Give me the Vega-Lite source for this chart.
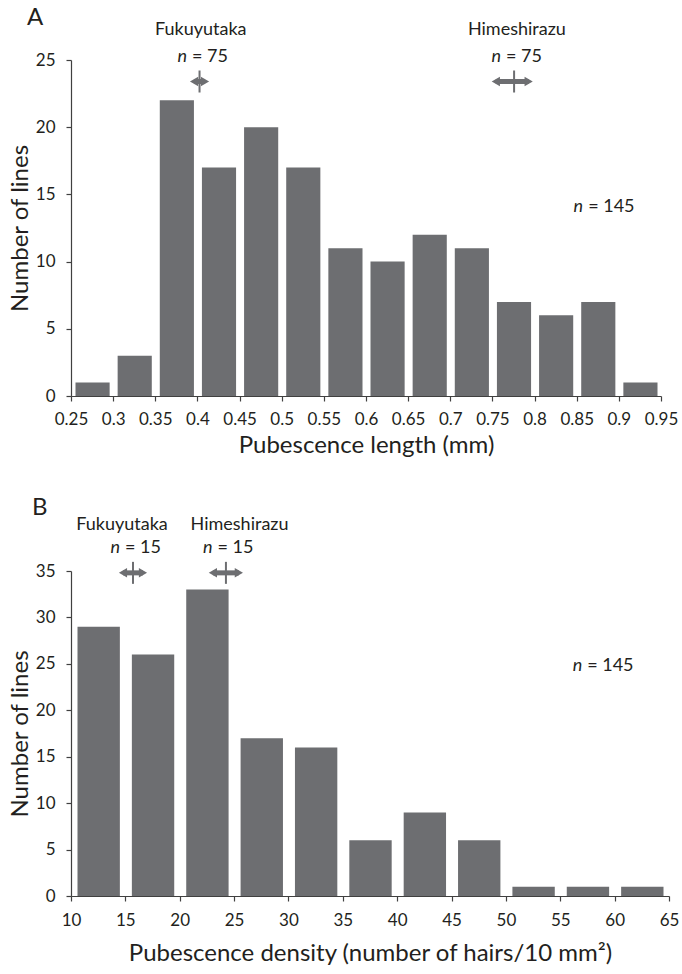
{
  "$schema": "https://vega.github.io/schema/vega-lite/v6.json",
  "background": "white",
  "padding": {"left": 8, "top": 6, "right": 5, "bottom": 2},
  "config": {
    "font": "Lato",
    "view": {"stroke": null},
    "axis": {
      "domainColor": "#404040", "tickColor": "#404040", "labelColor": "#231f20", "titleColor": "#231f20",
      "labelFontSize": 17, "titleFontSize": 24, "titleFontWeight": "normal", "grid": false, "tickSize": 5,
      "labelFont": "Lato", "titleFont": "Lato", "domainWidth": 1.2, "tickWidth": 1.2, "labelOverlap": false, "labelFlush": false
    },
    "title": {"fontSize": 24, "fontWeight": "normal", "anchor": "start", "frame": "group", "color": "#231f20", "font": "Lato"},
    "text": {"font": "Lato", "fontSize": 18, "color": "#231f20"},
    "concat": {"spacing": 38}
  },
  "datasets": {
    "barsA": [
      {"lo": 0.25, "hi": 0.30, "count": 1},
      {"lo": 0.30, "hi": 0.35, "count": 3},
      {"lo": 0.35, "hi": 0.40, "count": 22},
      {"lo": 0.40, "hi": 0.45, "count": 17},
      {"lo": 0.45, "hi": 0.50, "count": 20},
      {"lo": 0.50, "hi": 0.55, "count": 17},
      {"lo": 0.55, "hi": 0.60, "count": 11},
      {"lo": 0.60, "hi": 0.65, "count": 10},
      {"lo": 0.65, "hi": 0.70, "count": 12},
      {"lo": 0.70, "hi": 0.75, "count": 11},
      {"lo": 0.75, "hi": 0.80, "count": 7},
      {"lo": 0.80, "hi": 0.85, "count": 6},
      {"lo": 0.85, "hi": 0.90, "count": 7},
      {"lo": 0.90, "hi": 0.95, "count": 1}
    ],
    "arrowsA": [
      {"cultivar": "Fukuyutaka", "lo": 0.396, "mean": 0.4025, "hi": 0.409, "y": 23.4},
      {"cultivar": "Himeshirazu", "lo": 0.754, "mean": 0.7757, "hi": 0.793, "y": 23.4}
    ],
    "namesA": [
      {"x": 0.404, "y": 27.2, "name": "Fukuyutaka"},
      {"x": 0.779, "y": 27.2, "name": "Himeshirazu"}
    ],
    "nA": [
      {"x": 0.390, "y": 25.2, "rest": "= 75"},
      {"x": 0.7626, "y": 25.2, "rest": "= 75"},
      {"x": 0.860, "y": 14.06, "rest": "= 145"}
    ],
    "barsB": [
      {"lo": 10, "hi": 15, "count": 29},
      {"lo": 15, "hi": 20, "count": 26},
      {"lo": 20, "hi": 25, "count": 33},
      {"lo": 25, "hi": 30, "count": 17},
      {"lo": 30, "hi": 35, "count": 16},
      {"lo": 35, "hi": 40, "count": 6},
      {"lo": 40, "hi": 45, "count": 9},
      {"lo": 45, "hi": 50, "count": 6},
      {"lo": 50, "hi": 55, "count": 1},
      {"lo": 55, "hi": 60, "count": 1},
      {"lo": 60, "hi": 65, "count": 1}
    ],
    "arrowsB": [
      {"cultivar": "Fukuyutaka", "lo": 14.78, "mean": 15.7, "hi": 16.62, "y": 34.8},
      {"cultivar": "Himeshirazu", "lo": 23.05, "mean": 24.25, "hi": 25.44, "y": 34.8}
    ],
    "namesB": [
      {"x": 14.69, "y": 40.0, "name": "Fukuyutaka"},
      {"x": 25.5, "y": 40.0, "name": "Himeshirazu"}
    ],
    "nB": [
      {"x": 14.69, "y": 37.5, "rest": "= 15"},
      {"x": 23.2, "y": 37.5, "rest": "= 15"},
      {"x": 57.2, "y": 24.8, "rest": "= 145"}
    ]
  },
  "vconcat": [
    {
      "width": 590, "height": 336,
      "title": {"text": "A", "dx": -44, "offset": -9},
      "layer": [
        {
          "data": {"name": "barsA"},
          "mark": {"type": "bar", "color": "#6d6e71", "binSpacing": 8},
          "encoding": {
            "x": {"field": "lo", "type": "quantitative", "bin": {"binned": true, "step": 0.05},
                  "scale": {"domain": [0.25, 0.95], "nice": false, "zero": false},
                  "axis": {"values": [0.25,0.3,0.35,0.4,0.45,0.5,0.55,0.6,0.65,0.7,0.75,0.8,0.85,0.9,0.95], "format": ".2~f", "title": "Pubescence length (mm)", "labelPadding": 10, "titlePadding": 6}},
            "x2": {"field": "hi"},
            "y": {"field": "count", "type": "quantitative", "scale": {"domain": [0, 25], "nice": false},
                  "axis": {"values": [0,5,10,15,20,25], "title": "Number of lines", "labelPadding": 11, "titlePadding": 3}}
          }
        },
        {
          "data": {"name": "arrowsA"},
          "mark": {"type": "rule", "color": "#6d6e71", "strokeWidth": 5},
          "encoding": {
            "x": {"field": "lo", "type": "quantitative"},
            "x2": {"field": "hi"},
            "y": {"field": "y", "type": "quantitative"}
          }
        },
        {
          "data": {"name": "arrowsA"},
          "mark": {"type": "point", "shape": "triangle-left", "filled": true, "size": 90, "color": "#6d6e71", "opacity": 1},
          "encoding": {
            "x": {"field": "lo", "type": "quantitative"},
            "y": {"field": "y", "type": "quantitative"}
          }
        },
        {
          "data": {"name": "arrowsA"},
          "mark": {"type": "point", "shape": "triangle-right", "filled": true, "size": 90, "color": "#6d6e71", "opacity": 1},
          "encoding": {
            "x": {"field": "hi", "type": "quantitative"},
            "y": {"field": "y", "type": "quantitative"}
          }
        },
        {
          "data": {"name": "arrowsA"},
          "mark": {"type": "tick", "orient": "vertical", "size": 22, "thickness": 2, "color": "#6d6e71", "opacity": 1},
          "encoding": {
            "x": {"field": "mean", "type": "quantitative"},
            "y": {"field": "y", "type": "quantitative"}
          }
        },
        {
          "data": {"name": "namesA"},
          "mark": {"type": "text", "align": "center", "baseline": "middle"},
          "encoding": {
            "x": {"field": "x", "type": "quantitative"},
            "y": {"field": "y", "type": "quantitative"},
            "text": {"field": "name"}
          }
        },
        {
          "data": {"name": "nA"},
          "mark": {"type": "text", "align": "right", "baseline": "middle", "fontStyle": "italic", "dx": -2},
          "encoding": {
            "x": {"field": "x", "type": "quantitative"},
            "y": {"field": "y", "type": "quantitative"},
            "text": {"value": "n"}
          }
        },
        {
          "data": {"name": "nA"},
          "mark": {"type": "text", "align": "left", "baseline": "middle", "dx": 3},
          "encoding": {
            "x": {"field": "x", "type": "quantitative"},
            "y": {"field": "y", "type": "quantitative"},
            "text": {"field": "rest"}
          }
        }
      ]
    },
    {
      "width": 598, "height": 325,
      "title": {"text": "B", "dx": -39, "offset": -4},
      "layer": [
        {
          "data": {"name": "barsB"},
          "mark": {"type": "bar", "color": "#6d6e71", "binSpacing": 12},
          "encoding": {
            "x": {"field": "lo", "type": "quantitative", "bin": {"binned": true, "step": 5},
                  "scale": {"domain": [10, 65], "nice": false, "zero": false},
                  "axis": {"values": [10,15,20,25,30,35,40,45,50,55,60,65], "format": "d", "title": "Pubescence density (number of hairs/10 mm²)", "labelPadding": 11, "titlePadding": 13}},
            "x2": {"field": "hi"},
            "y": {"field": "count", "type": "quantitative", "scale": {"domain": [0, 35], "nice": false},
                  "axis": {"values": [0,5,10,15,20,25,30,35], "title": "Number of lines", "labelPadding": 11, "titlePadding": 3}}
          }
        },
        {
          "data": {"name": "arrowsB"},
          "mark": {"type": "rule", "color": "#6d6e71", "strokeWidth": 5},
          "encoding": {
            "x": {"field": "lo", "type": "quantitative"},
            "x2": {"field": "hi"},
            "y": {"field": "y", "type": "quantitative"}
          }
        },
        {
          "data": {"name": "arrowsB"},
          "mark": {"type": "point", "shape": "triangle-left", "filled": true, "size": 90, "color": "#6d6e71", "opacity": 1},
          "encoding": {
            "x": {"field": "lo", "type": "quantitative"},
            "y": {"field": "y", "type": "quantitative"}
          }
        },
        {
          "data": {"name": "arrowsB"},
          "mark": {"type": "point", "shape": "triangle-right", "filled": true, "size": 90, "color": "#6d6e71", "opacity": 1},
          "encoding": {
            "x": {"field": "hi", "type": "quantitative"},
            "y": {"field": "y", "type": "quantitative"}
          }
        },
        {
          "data": {"name": "arrowsB"},
          "mark": {"type": "tick", "orient": "vertical", "size": 22, "thickness": 2, "color": "#6d6e71", "opacity": 1},
          "encoding": {
            "x": {"field": "mean", "type": "quantitative"},
            "y": {"field": "y", "type": "quantitative"}
          }
        },
        {
          "data": {"name": "namesB"},
          "mark": {"type": "text", "align": "center", "baseline": "middle"},
          "encoding": {
            "x": {"field": "x", "type": "quantitative"},
            "y": {"field": "y", "type": "quantitative"},
            "text": {"field": "name"}
          }
        },
        {
          "data": {"name": "nB"},
          "mark": {"type": "text", "align": "right", "baseline": "middle", "fontStyle": "italic", "dx": -2},
          "encoding": {
            "x": {"field": "x", "type": "quantitative"},
            "y": {"field": "y", "type": "quantitative"},
            "text": {"value": "n"}
          }
        },
        {
          "data": {"name": "nB"},
          "mark": {"type": "text", "align": "left", "baseline": "middle", "dx": 3},
          "encoding": {
            "x": {"field": "x", "type": "quantitative"},
            "y": {"field": "y", "type": "quantitative"},
            "text": {"field": "rest"}
          }
        }
      ]
    }
  ]
}
